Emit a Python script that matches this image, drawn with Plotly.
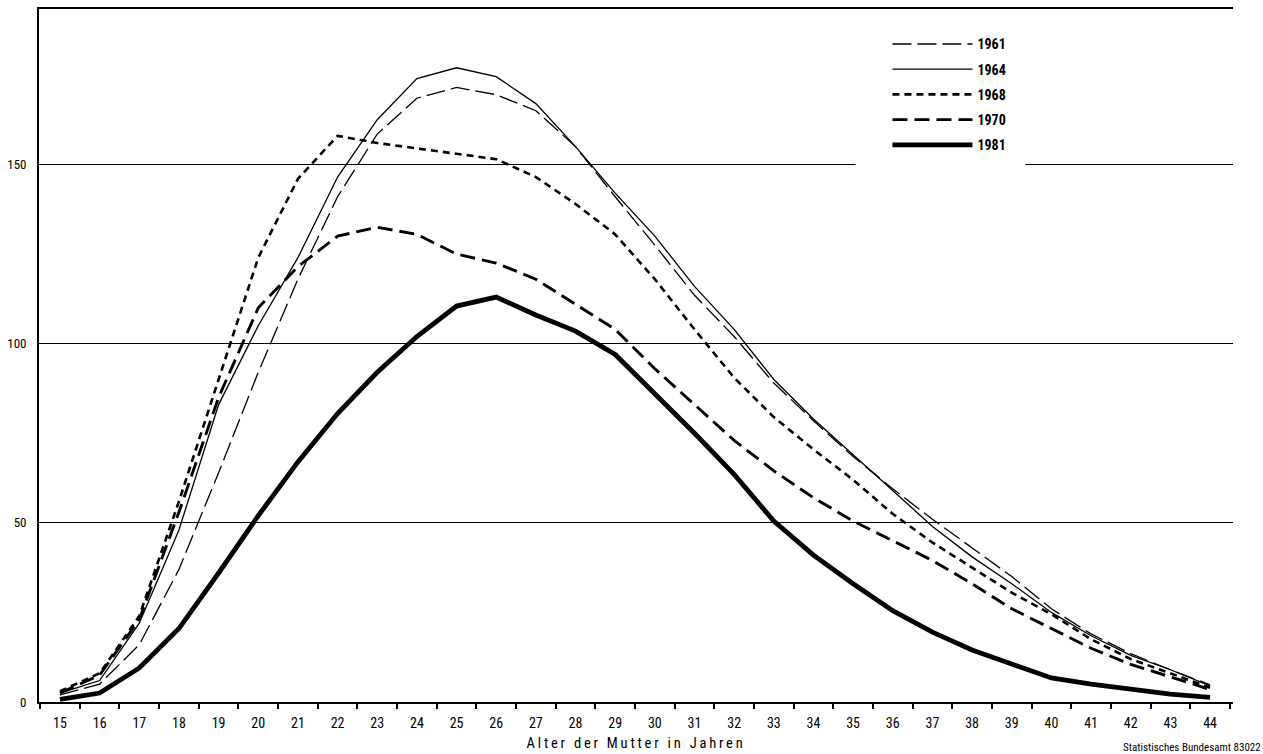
import plotly.graph_objects as go

ages = list(range(15, 45))

y1961 = [2, 5, 16, 37, 64, 92, 118, 141, 158.5, 168.5, 171.5, 169.5, 165, 155, 141,
         127.5, 113.5, 102, 89, 78.5, 68.5, 59.5, 51, 43, 35, 26, 19, 13.5, 9, 4.8]
y1964 = [2.5, 6, 22, 48, 83, 105, 124, 146.5, 162.5, 174, 177, 174.5, 167, 155, 142,
         130, 116, 104, 90, 79, 69, 59, 49, 40.5, 33, 25, 18.5, 13, 9, 4.5]
y1968 = [3, 8, 24, 56, 90, 124, 146, 158, 156, 154.5, 153, 151.5, 146.5, 139, 130.5,
         118, 104, 90.5, 79.5, 70.5, 62, 52.5, 44.5, 37.5, 30.5, 24.5, 17.5, 12, 8, 4]
y1970 = [2.5, 7.5, 23, 53, 85, 110, 121.5, 130, 132.5, 130.5, 125, 122.5, 118, 111, 104,
         93, 83, 73, 64.5, 57, 50.5, 45, 39.5, 33, 26, 20.5, 15, 10.5, 7, 3.5]
y1981 = [0.7, 2.5, 9.5, 20.5, 36, 52, 67, 80.5, 92, 102, 110.5, 113, 108, 103.5, 97,
         86, 75, 63.5, 50.5, 41, 33, 25.5, 19.5, 14.5, 10.5, 6.7, 5, 3.5, 2.2, 1.3]

series = [
    ("1961", y1961, dict(color="black", width=1.3, dash="19px,6px")),
    ("1964", y1964, dict(color="black", width=1.3)),
    ("1968", y1968, dict(color="black", width=2.6, dash="7px,5px")),
    ("1970", y1970, dict(color="black", width=2.9, dash="15px,7px")),
    ("1981", y1981, dict(color="black", width=4.8)),
]

y_ticks = [0, 50, 100, 150]
x_labels = [str(a) for a in ages]
half_ticks = [a + 0.5 for a in range(14, 45)]

FONT = "Liberation Sans Narrow, Roboto Condensed, DejaVu Sans Condensed, Roboto, sans-serif"

fig = go.Figure()
for name, vals, line in series:
    fig.add_trace(go.Scatter(x=ages, y=vals, mode="lines", name=name, line=line,
                             legendgroup=name, showlegend=True))

fig.update_layout(
    width=1263, height=754,
    margin=dict(l=37, r=30, t=7, b=52),
    paper_bgcolor="white", plot_bgcolor="white",
    font=dict(family=FONT, size=13, color="black"),
    showlegend=True,
    legend=dict(x=0.7106, y=0.972, xanchor="left", yanchor="top",
                bgcolor="white", borderwidth=0, itemwidth=80,
                tracegroupgap=4, traceorder="grouped",
                font=dict(family=FONT, size=14, color="black", weight="bold")),
    xaxis=dict(range=[14.471, 44.579], tickvals=ages, ticktext=x_labels,
               ticks="", showgrid=False, zeroline=False,
               showline=True, linecolor="black", linewidth=1.8, mirror=True,
               minor=dict(tickvals=half_ticks, ticks="outside", ticklen=5,
                          tickwidth=1.5, tickcolor="black", showgrid=False),
               tickfont=dict(size=14), ticklabelstandoff=7, fixedrange=True),
    yaxis=dict(range=[0, 193.4], tickvals=y_ticks, ticks="", showgrid=True,
               gridcolor="black", gridwidth=1, zeroline=False,
               showline=True, linecolor="black", linewidth=1.8,
               tickfont=dict(size=13), ticklabelstandoff=8, fixedrange=True),
    yaxis2=dict(range=[0, 193.4], tickvals=y_ticks, ticks="", showgrid=False,
                overlaying="y", side="right", anchor="x", zeroline=False,
                showline=True, linecolor="black", linewidth=1.8,
                tickfont=dict(size=13), ticklabelstandoff=6, fixedrange=True),
)

# gap in the 150 gridline behind the legend (as in the original)
fig.add_shape(type="rect", xref="paper", yref="paper",
              x0=(855 - 37) / 1196, x1=(1025 - 37) / 1196,
              y0=0.762, y1=0.79, fillcolor="white", line=dict(width=0),
              layer="above")

fig.add_annotation(text="Alter der Mutter in Jahren", xref="paper", yref="paper",
                   x=0.5, y=-0.0592, xanchor="center", yanchor="middle",
                   showarrow=False, font=dict(family=FONT, size=14.5))
fig.add_annotation(text="Statistisches Bundesamt 83022", xref="paper", yref="paper",
                   x=1.025, y=-0.0655, xanchor="right", yanchor="middle",
                   showarrow=False, font=dict(family=FONT, size=11))

post = """
document.body.style.margin='0';
var t = document.querySelectorAll('.annotation-text');
if (t.length) { t[0].style.letterSpacing = '2.8px'; }
"""
fig.write_html("out.html", post_script=post, config={"displayModeBar": False})
